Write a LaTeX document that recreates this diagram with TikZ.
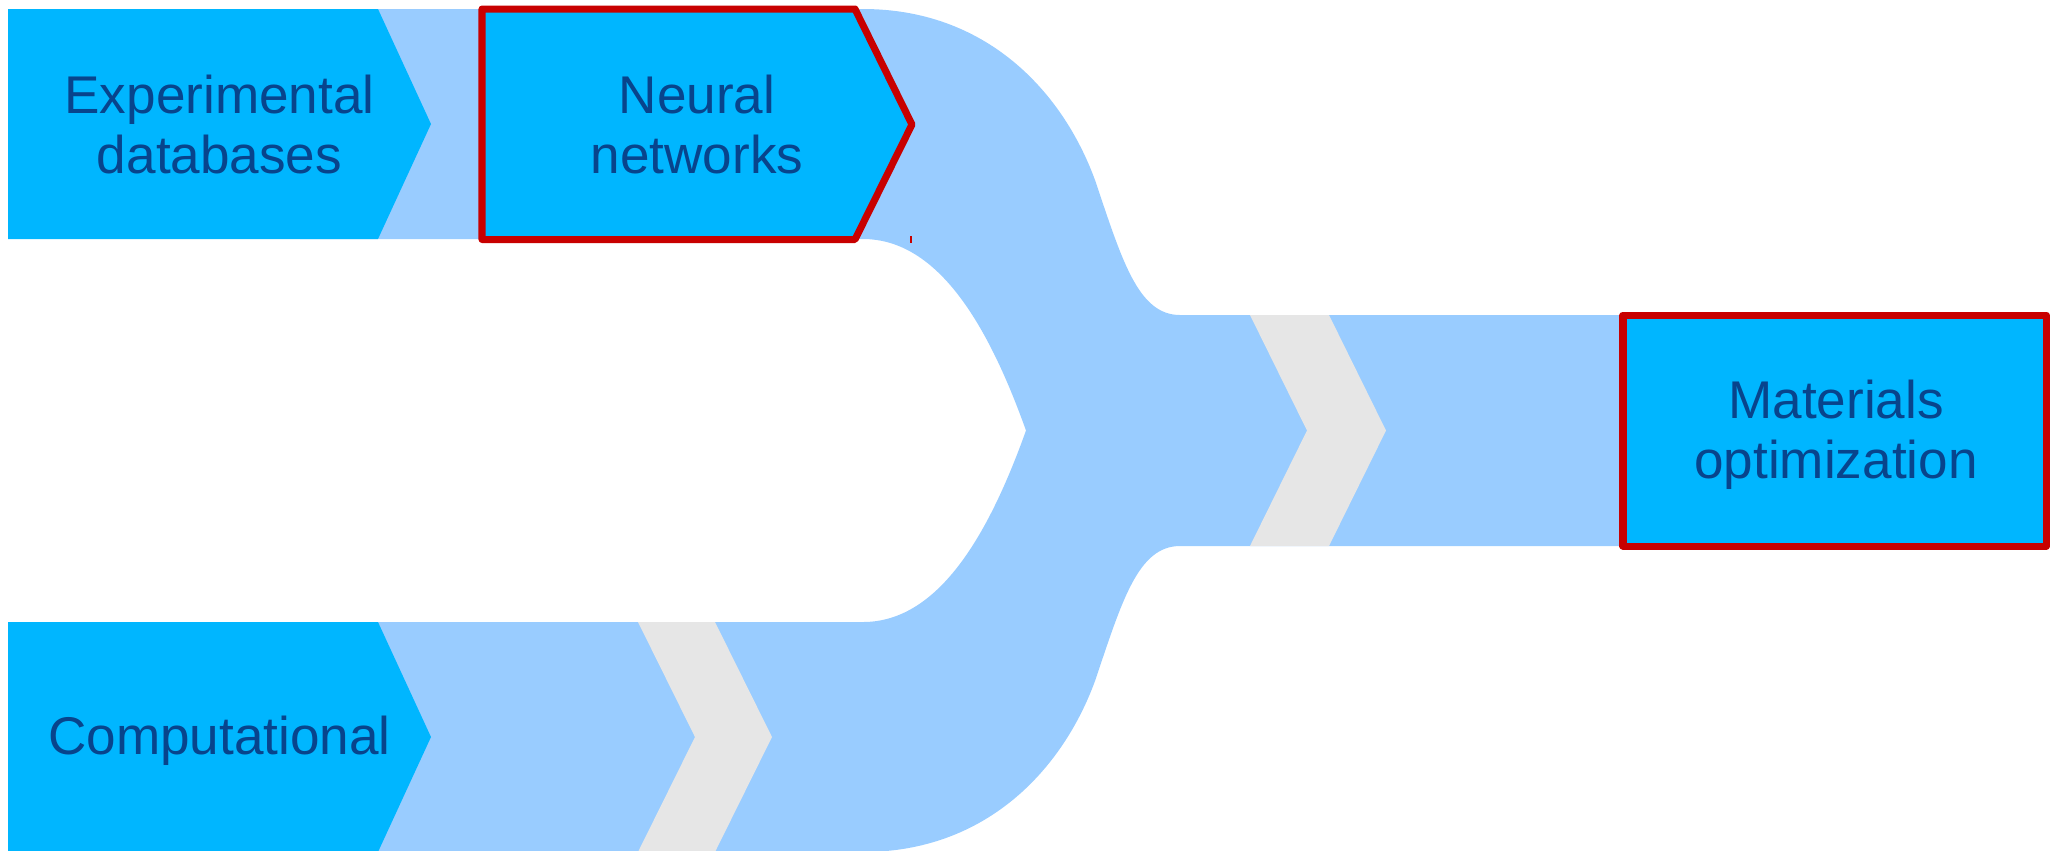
\documentclass[tikz,border=0pt]{standalone}
\usepackage{fontspec}
\setmainfont{Liberation Sans}
\definecolor{boxcyan}{RGB}{0,182,255}
\definecolor{flowblue}{RGB}{153,204,255}
\definecolor{chevgrey}{RGB}{230,230,230}
\definecolor{hlred}{RGB}{200,0,0}
\definecolor{labelblue}{RGB}{8,68,140}
\tikzset{
  flow/.style={fill=flowblue},
  chev/.style={fill=chevgrey},
  stagebox/.style={fill=boxcyan},
  hlbox/.style={fill=boxcyan, draw=hlred, line width=2pt, line join=round},
  lbl/.style={text=labelblue, inner sep=0pt, align=center,
    font=\fontsize{15.1pt}{17.07pt}\selectfont}
}
\begin{document}
\begin{tikzpicture}[x=0.01cm, y=-0.01cm]
\useasboundingbox (0,0) rectangle (2050,850);
\clip (0,0) rectangle (2050,850);
% merging flow
\path[flow] (300,9) -- (863,9)
  .. controls (985,9) and (1062,90) .. (1095,180)
  .. controls (1122,260) and (1138,315) .. (1180,315)
  -- (1700,315) -- (1700,546) -- (1180,546)
  .. controls (1138,546) and (1122,601) .. (1095,681)
  .. controls (1062,771) and (985,852) .. (863,852)
  -- (300,852) -- (300,622) -- (863,622)
  .. controls (940,622) and (990,531) .. (1026,430.5)
  .. controls (990,330) and (940,239) .. (863,239)
  -- (300,239) -- cycle;
% chevrons
\path[chev] (638,622) -- (715,622) -- (772,737) -- (715,852) -- (638,852) -- (695,737) -- cycle;
\path[chev] (1250,315) -- (1329,315) -- (1386,430.5) -- (1329,546) -- (1250,546) -- (1307,430.5) -- cycle;
% boxes
\path[stagebox] (8,9) -- (378,9) -- (431,124) -- (378,239) -- (8,239) -- cycle;
\path[stagebox] (8,622) -- (378,622) -- (431,737) -- (378,852) -- (8,852) -- cycle;
\path[hlbox] (482,9) -- (855,9) -- (912,124.5) -- (855,239.5) -- (482,239.5) -- cycle;
\path[hlbox] (1623,315) -- (2046.5,315) -- (2046.5,546) -- (1623,546) -- cycle;
\draw[hlred, line width=0.3pt] (911,236) -- (911,243);
% labels
\node[lbl] (exp) at (219.5,124.5) {Experimental\\databases};
\node[lbl] (nn) at (697,124.5) {Neural\\networks};
\node[lbl, anchor=base] (comp) at (219.5,754) {Computational};
\node[lbl] (mat) at (1836,435) {Materials\\optimization};
\end{tikzpicture}
\end{document}
